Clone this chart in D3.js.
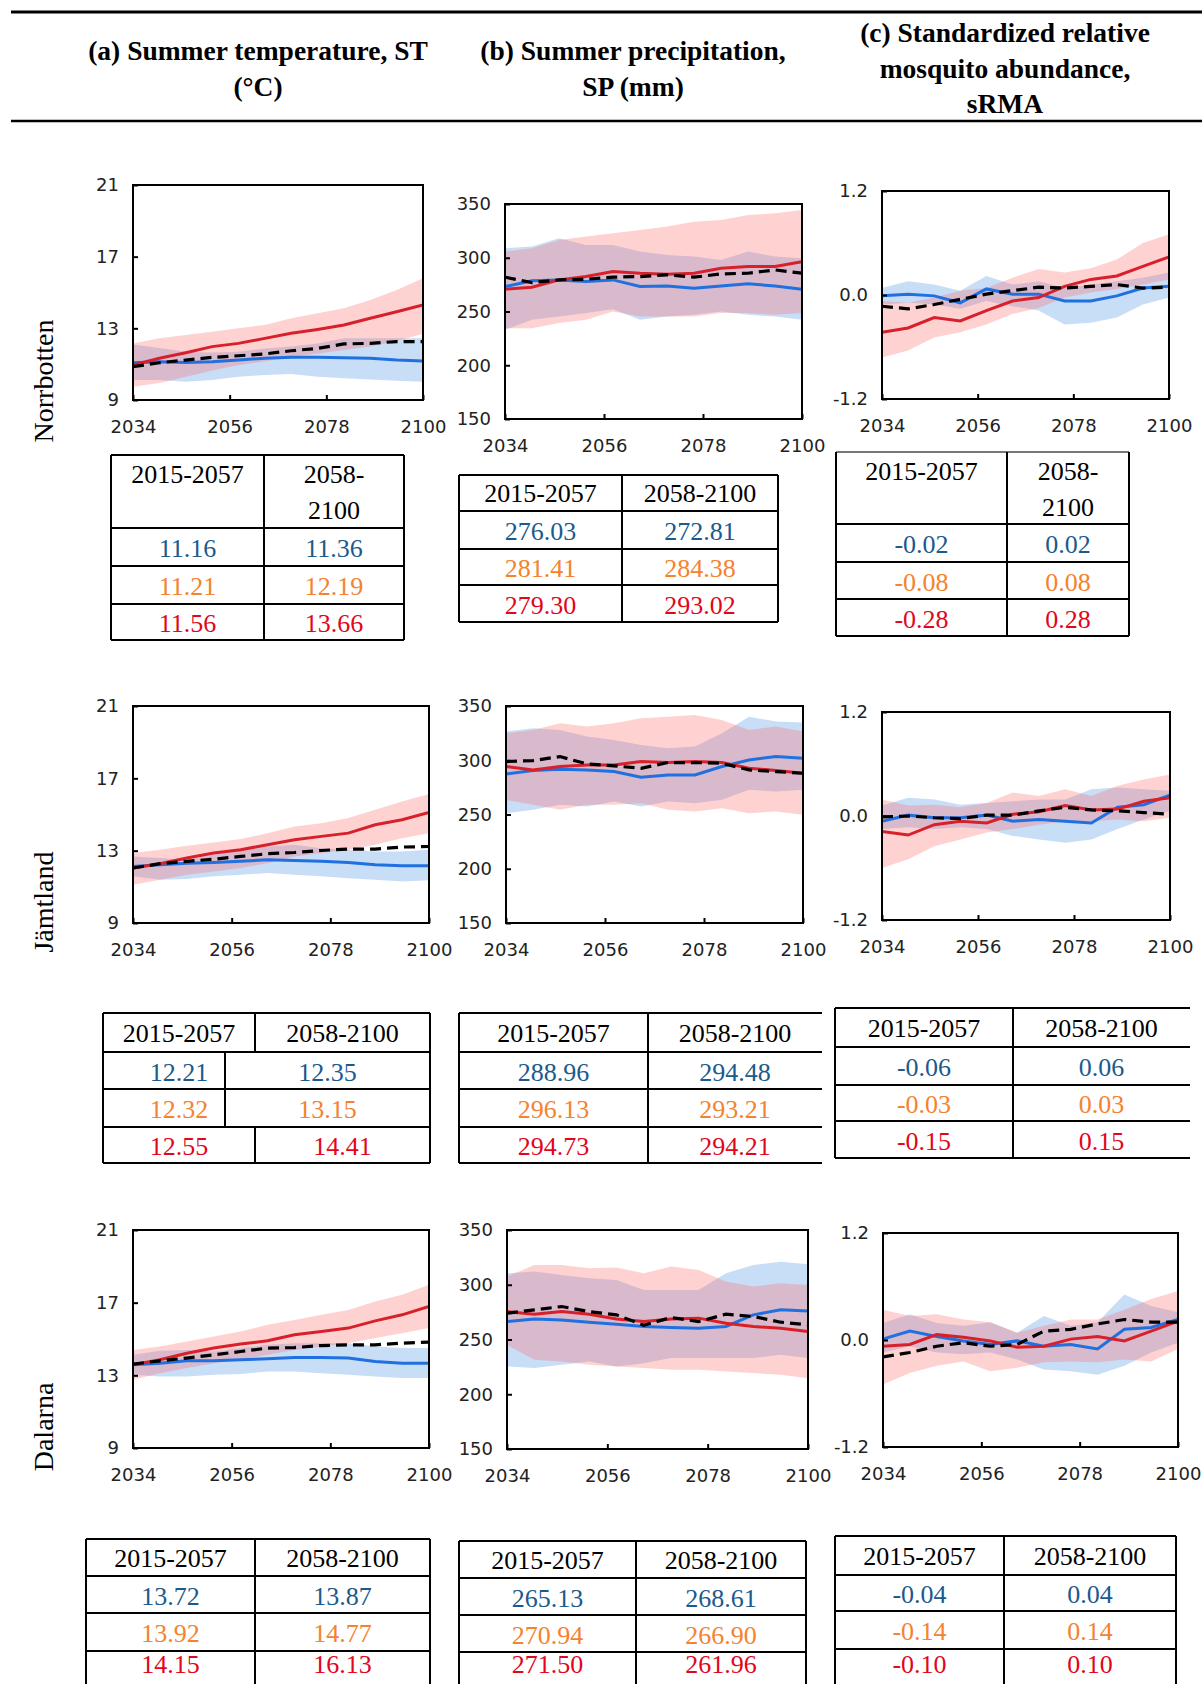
<!DOCTYPE html>
<html>
<head>
<meta charset="utf-8">
<script src="https://cdn.jsdelivr.net/npm/d3@7"></script>
<style>
  body { margin: 0; background: #fff; }
  svg { display: block; }
</style>
</head>
<body>
<svg id="fig" width="1202" height="1684"></svg>
<script>
// ---- data ----
const years = [2034, 2040, 2046, 2052, 2058, 2064, 2070, 2076, 2082, 2088, 2094, 2100];
const xTicks = [2034, 2056, 2078, 2100];
const stTicks = [9, 13, 17, 21];
const spTicks = [150, 200, 250, 300, 350];
const rmaTicks = [-1.2, 0, 1.2];
const regions = ["Norrbotten", "Jämtland", "Dalarna"];
const periods = ["2015-2057", "2058-2100"];

// Norrbotten
const nST_red = [10.95, 11.33, 11.64, 11.98, 12.16, 12.44, 12.72, 12.94, 13.19, 13.56, 13.93, 14.30];
const nST_blue = [11.08, 11.14, 11.10, 11.14, 11.23, 11.33, 11.38, 11.38, 11.36, 11.33, 11.23, 11.18];
const nST_black = [10.86, 11.08, 11.23, 11.38, 11.47, 11.57, 11.75, 11.88, 12.13, 12.16, 12.26, 12.26];
const nST_redHi = [12.16, 12.44, 12.63, 12.81, 13.00, 13.19, 13.56, 13.84, 14.12, 14.58, 15.14, 15.79];
const nST_redLo = [9.74, 9.95, 10.30, 10.65, 10.95, 11.15, 11.42, 11.60, 11.79, 11.98, 12.30, 12.70];
const nST_blueHi = [12.10, 11.90, 11.70, 11.65, 11.70, 11.88, 11.98, 12.16, 12.44, 12.44, 12.44, 12.44];
const nST_blueLo = [10.12, 10.12, 10.02, 10.12, 10.30, 10.40, 10.45, 10.30, 10.21, 10.15, 10.08, 10.02];

const nSP_red = [270.7, 272.6, 279.4, 282.5, 287.2, 285.6, 284.7, 285.6, 290.2, 291.8, 291.8, 296.4];
const nSP_blue = [273.2, 278.5, 279.4, 277.9, 279.4, 273.2, 273.8, 271.7, 273.8, 275.7, 273.8, 270.7];
const nSP_black = [281.9, 276.9, 279.4, 280.0, 281.9, 282.5, 284.1, 281.9, 285.0, 285.6, 288.7, 285.6];
const nSP_redHi = [305.7, 308.8, 316.6, 319.7, 322.8, 325.9, 329.0, 333.6, 335.1, 339.8, 341.3, 344.4];
const nSP_redLo = [234.5, 234.5, 239.2, 242.3, 250.0, 245.4, 245.4, 245.4, 248.5, 248.5, 246.9, 248.5];
const nSP_blueHi = [308.8, 310.4, 318.1, 311.9, 311.9, 305.7, 302.6, 301.1, 298.0, 305.7, 301.1, 299.5];
const nSP_blueLo = [233.0, 242.3, 245.4, 248.5, 252.2, 242.3, 245.4, 246.9, 250.0, 246.9, 245.4, 242.3];

const nRMA_red = [-0.43, -0.38, -0.26, -0.30, -0.18, -0.07, -0.03, 0.10, 0.18, 0.22, 0.33, 0.44];
const nRMA_blue = [-0.01, 0.01, -0.01, -0.09, 0.07, 0.01, 0.01, -0.07, -0.07, -0.01, 0.08, 0.10];
const nRMA_black = [-0.13, -0.16, -0.11, -0.05, 0.01, 0.05, 0.09, 0.08, 0.10, 0.12, 0.08, 0.09];
const nRMA_redHi = [-0.07, -0.09, -0.03, 0.05, 0.08, 0.20, 0.30, 0.26, 0.31, 0.41, 0.60, 0.70];
const nRMA_redLo = [-0.72, -0.64, -0.49, -0.43, -0.34, -0.22, -0.15, -0.03, 0.03, 0.07, 0.12, 0.18];
const nRMA_blueHi = [0.08, 0.16, 0.12, 0.05, 0.22, 0.12, 0.16, 0.08, 0.12, 0.16, 0.20, 0.26];
const nRMA_blueLo = [-0.11, -0.09, -0.11, -0.16, -0.07, -0.13, -0.18, -0.34, -0.32, -0.26, -0.11, -0.03];

// Jämtland
const jST_red = [12.04, 12.28, 12.59, 12.87, 13.05, 13.33, 13.60, 13.79, 13.97, 14.43, 14.71, 15.11];
const jST_blue = [12.13, 12.22, 12.31, 12.35, 12.41, 12.50, 12.46, 12.41, 12.35, 12.22, 12.17, 12.17];
const jST_black = [12.04, 12.28, 12.41, 12.53, 12.68, 12.83, 12.90, 13.01, 13.09, 13.09, 13.20, 13.23];
const jST_redHi = [12.87, 13.05, 13.27, 13.45, 13.64, 13.97, 14.34, 14.52, 14.80, 15.26, 15.72, 16.14];
const jST_redLo = [11.12, 11.39, 11.67, 11.85, 12.04, 12.31, 12.68, 12.87, 13.05, 13.33, 13.69, 13.97];
const jST_blueHi = [12.68, 12.59, 12.50, 12.77, 13.05, 13.23, 13.33, 13.14, 13.05, 12.96, 12.96, 13.05];
const jST_blueLo = [11.58, 11.39, 11.43, 11.58, 11.67, 11.76, 11.67, 11.58, 11.48, 11.39, 11.30, 11.36];

const jSP_red = [294.2, 291.1, 294.2, 295.7, 295.7, 298.8, 297.9, 298.8, 297.9, 292.6, 290.5, 288.0];
const jSP_blue = [287.4, 290.5, 291.7, 291.1, 289.6, 284.4, 286.5, 286.5, 294.2, 300.3, 303.4, 301.8];
const jSP_black = [298.8, 299.7, 303.4, 296.6, 294.8, 292.6, 297.9, 297.9, 297.2, 291.1, 289.6, 288.0];
const jSP_redHi = [324.8, 327.9, 334.0, 331.0, 334.0, 338.7, 340.2, 341.7, 337.1, 327.9, 331.0, 326.4];
const jSP_redLo = [263.5, 258.9, 254.3, 258.9, 258.9, 260.4, 254.3, 252.8, 255.8, 251.2, 252.8, 249.7];
const jSP_blueHi = [326.4, 329.4, 327.9, 321.8, 318.7, 314.1, 311.0, 312.6, 324.8, 340.2, 335.6, 334.7];
const jSP_blueLo = [251.2, 254.3, 258.9, 257.4, 262.0, 257.4, 262.0, 260.4, 263.5, 272.7, 271.2, 272.7];

const jRMA_red = [-0.18, -0.22, -0.10, -0.06, -0.08, 0.02, 0.05, 0.12, 0.07, 0.08, 0.17, 0.21];
const jRMA_blue = [-0.06, 0.01, -0.02, -0.02, 0.01, -0.06, -0.04, -0.06, -0.08, 0.10, 0.13, 0.24];
const jRMA_black = [-0.01, 0.00, -0.02, -0.03, 0.01, 0.01, 0.06, 0.10, 0.07, 0.06, 0.04, 0.02];
const jRMA_redHi = [0.19, 0.12, 0.13, 0.10, 0.15, 0.27, 0.23, 0.31, 0.23, 0.35, 0.42, 0.48];
const jRMA_redLo = [-0.60, -0.50, -0.35, -0.27, -0.19, -0.15, -0.10, -0.06, -0.06, -0.04, -0.06, -0.02];
const jRMA_blueHi = [0.12, 0.21, 0.19, 0.13, 0.15, 0.17, 0.19, 0.19, 0.31, 0.33, 0.31, 0.29];
const jRMA_blueLo = [-0.15, -0.13, -0.15, -0.13, -0.15, -0.23, -0.27, -0.31, -0.27, -0.15, -0.04, 0.06];

// Dalarna
const dST_red = [13.58, 13.86, 14.22, 14.50, 14.72, 14.90, 15.23, 15.41, 15.60, 16.00, 16.33, 16.79];
const dST_blue = [13.58, 13.67, 13.80, 13.80, 13.86, 13.91, 13.98, 13.98, 13.95, 13.76, 13.67, 13.67];
const dST_black = [13.62, 13.80, 13.95, 14.13, 14.31, 14.50, 14.53, 14.64, 14.68, 14.68, 14.77, 14.83];
const dST_redHi = [14.40, 14.59, 14.86, 15.14, 15.41, 15.78, 16.05, 16.33, 16.60, 17.06, 17.43, 17.98];
const dST_redLo = [12.76, 13.12, 13.40, 13.67, 13.86, 14.13, 14.40, 14.59, 14.77, 15.05, 15.32, 15.60];
const dST_blueHi = [14.13, 14.35, 14.40, 14.31, 14.50, 14.68, 14.77, 14.77, 14.77, 14.59, 14.50, 14.50];
const dST_blueLo = [13.03, 12.94, 12.94, 13.03, 13.07, 13.21, 13.21, 13.12, 13.03, 12.94, 12.85, 12.85];

const dSP_red = [275.5, 273.1, 275.5, 273.1, 268.8, 266.4, 268.8, 269.5, 264.9, 261.9, 260.3, 257.3];
const dSP_blue = [266.4, 268.8, 267.9, 265.8, 264.0, 261.9, 260.9, 260.3, 261.9, 272.5, 277.1, 276.1];
const dSP_black = [274.0, 277.1, 280.1, 275.5, 272.5, 263.0, 270.1, 266.4, 273.1, 271.0, 265.8, 263.4];
const dSP_redHi = [307.4, 318.1, 318.1, 315.0, 315.7, 310.5, 316.6, 313.5, 302.9, 298.3, 301.4, 299.8];
const dSP_redLo = [245.1, 231.5, 229.9, 226.9, 225.4, 223.9, 222.3, 222.3, 220.8, 219.3, 217.8, 214.7];
const dSP_blueHi = [310.5, 312.0, 309.0, 305.9, 304.4, 295.3, 295.3, 295.3, 310.5, 318.1, 321.1, 318.7];
const dSP_blueLo = [225.4, 223.9, 226.9, 229.9, 225.4, 228.4, 233.0, 233.0, 233.0, 233.0, 236.0, 233.0];

const dRMA_red = [-0.07, -0.05, 0.06, 0.03, -0.01, -0.08, -0.07, 0.01, 0.04, -0.01, 0.10, 0.21];
const dRMA_blue = [0.01, 0.10, 0.04, -0.01, -0.05, -0.01, -0.07, -0.05, -0.10, 0.12, 0.14, 0.23];
const dRMA_black = [-0.19, -0.14, -0.07, -0.03, -0.07, -0.05, 0.10, 0.12, 0.18, 0.23, 0.20, 0.20];
const dRMA_redHi = [0.34, 0.27, 0.29, 0.23, 0.20, 0.08, 0.16, 0.23, 0.23, 0.34, 0.46, 0.55];
const dRMA_redLo = [-0.50, -0.37, -0.29, -0.24, -0.35, -0.31, -0.25, -0.24, -0.25, -0.22, -0.24, -0.10];
const dRMA_blueHi = [0.19, 0.29, 0.19, 0.16, 0.20, 0.08, 0.27, 0.16, 0.20, 0.51, 0.38, 0.31];
const dRMA_blueLo = [-0.14, -0.07, -0.14, -0.16, -0.14, -0.22, -0.33, -0.35, -0.39, -0.29, -0.14, -0.03];

// period means shown in the tables (rows: blue, orange, red)
const nST_tab = [[11.16, 11.36], [11.21, 12.19], [11.56, 13.66]];
const nSP_tab = [[276.03, 272.81], [281.41, 284.38], [279.30, 293.02]];
const nRMA_tab = [[-0.02, 0.02], [-0.08, 0.08], [-0.28, 0.28]];
const jST_tab = [[12.21, 12.35], [12.32, 13.15], [12.55, 14.41]];
const jSP_tab = [[288.96, 294.48], [296.13, 293.21], [294.73, 294.21]];
const jRMA_tab = [[-0.06, 0.06], [-0.03, 0.03], [-0.15, 0.15]];
const dST_tab = [[13.72, 13.87], [13.92, 14.77], [14.15, 16.13]];
const dSP_tab = [[265.13, 268.61], [270.94, 266.90], [271.50, 261.96]];
const dRMA_tab = [[-0.04, 0.04], [-0.14, 0.14], [-0.10, 0.10]];

// ---- drawing ----
const svg = d3.select("#fig");
const RED = "#d7202a", BLUE = "#2070e0";
const rowColors = ["#1b5a8c", "#f5822e", "#e2061b"];
const serif = "'Liberation Serif', 'Times New Roman', serif";
const sans = "'DejaVu Sans', sans-serif";

// header rules and titles
svg.append("line").attr("x1", 11).attr("x2", 1202).attr("y1", 12).attr("y2", 12)
    .attr("stroke", "#000").attr("stroke-width", 3);
svg.append("line").attr("x1", 11).attr("x2", 1202).attr("y1", 121).attr("y2", 121)
    .attr("stroke", "#000").attr("stroke-width", 2.5);

const titles = [
    { x: 258, lines: ["(a) Summer temperature, ST", "(°C)"], ys: [50, 86] },
    { x: 633, lines: ["(b) Summer precipitation,", "SP (mm)"], ys: [50, 86] },
    { x: 1005, lines: ["(c) Standardized relative", "mosquito abundance,", "sRMA"], ys: [32, 68, 103] }
];
titles.forEach(t => {
    t.lines.forEach((s, i) => {
        svg.append("text").attr("x", t.x).attr("y", t.ys[i]).attr("dy", "0.35em")
            .attr("text-anchor", "middle").attr("font-family", serif)
            .attr("font-weight", "bold").attr("font-size", 27.5).text(s);
    });
});

// row labels
[381, 902, 1427].forEach((cy, i) => {
    svg.append("text").attr("transform", "translate(43," + cy + ") rotate(-90)")
        .attr("dy", "0.35em").attr("text-anchor", "middle")
        .attr("font-family", serif).attr("font-size", 28).text(regions[i]);
});

let clipId = 0;
function drawChart(box, domain, ticks, fmt, s) {
    const x = d3.scaleLinear().domain([2034, 2100]).range([box.l, box.r]);
    const y = d3.scaleLinear().domain(domain).range([box.b, box.t]);
    const g = svg.append("g");
    const id = "clip" + (clipId++);
    g.append("clipPath").attr("id", id).append("rect")
        .attr("x", box.l).attr("y", box.t).attr("width", box.r - box.l).attr("height", box.b - box.t);
    const plot = g.append("g").attr("clip-path", "url(#" + id + ")");

    const band = (lo, hi) => d3.area()
        .x((d, i) => x(years[i])).y0((d, i) => y(lo[i])).y1((d, i) => y(hi[i]))(years);
    const line = v => d3.line().x((d, i) => x(years[i])).y((d, i) => y(v[i]))(years);

    plot.append("path").attr("d", band(s.blueLo, s.blueHi)).attr("fill", "#4a90e2").attr("fill-opacity", 0.3);
    plot.append("path").attr("d", band(s.redLo, s.redHi)).attr("fill", "#ff6b6b").attr("fill-opacity", 0.3);
    plot.append("path").attr("d", line(s.blue)).attr("fill", "none").attr("stroke", BLUE).attr("stroke-width", 3);
    plot.append("path").attr("d", line(s.red)).attr("fill", "none").attr("stroke", RED).attr("stroke-width", 3);
    plot.append("path").attr("d", line(s.black)).attr("fill", "none").attr("stroke", "#000")
        .attr("stroke-width", 3.2).attr("stroke-dasharray", "11,6");

    // axes
    const ax = g.append("g").attr("transform", "translate(0," + box.b + ")")
        .call(d3.axisBottom(x).tickValues(xTicks).tickFormat(d3.format("d"))
            .tickSizeInner(-5).tickSizeOuter(0).tickPadding(20));
    const ay = g.append("g").attr("transform", "translate(" + box.l + ",0)")
        .call(d3.axisLeft(y).tickValues(ticks).tickFormat(fmt)
            .tickSizeInner(-5).tickSizeOuter(0).tickPadding(14));
    [ax, ay].forEach(a => {
        a.select(".domain").remove();
        a.selectAll("line").attr("stroke", "#000").attr("stroke-width", 2);
        a.selectAll("text").attr("font-family", sans).attr("font-size", 18).attr("fill", "#222");
    });
    g.append("rect").attr("x", box.l).attr("y", box.t)
        .attr("width", box.r - box.l).attr("height", box.b - box.t)
        .attr("fill", "none").attr("stroke", "#000").attr("stroke-width", 2);
}

function drawTable(lay, vals, fmt) {
    const g = svg.append("g");
    const [xa, xm, xb] = lay.x;
    const ys = lay.y;
    const sw = 2;
    // divider position per row: header + 3 value rows
    const div = lay.rowDiv || [xm, xm, xm, xm];
    ys.forEach((yy, i) => {
        g.append("line").attr("x1", xa).attr("x2", xb).attr("y1", yy).attr("y2", yy)
            .attr("stroke", i === 0 && lay.thinTop ? "#777" : "#000").attr("stroke-width", sw);
    });
    const outer = lay.right === false ? [xa] : [xa, xb];
    outer.forEach(xx => {
        g.append("line").attr("x1", xx).attr("x2", xx).attr("y1", ys[0]).attr("y2", ys[ys.length - 1])
            .attr("stroke", "#000").attr("stroke-width", sw);
    });
    div.forEach((xx, i) => {
        g.append("line").attr("x1", xx).attr("x2", xx).attr("y1", ys[i]).attr("y2", ys[i + 1])
            .attr("stroke", "#000").attr("stroke-width", sw);
    });
    const cx0 = (xa + xm) / 2;
    const txt = (xx, yy, s, c) => g.append("text").attr("x", xx).attr("y", Math.min(yy, 1664)).attr("dy", "0.35em")
        .attr("text-anchor", "middle").attr("font-family", serif).attr("font-size", 26)
        .attr("fill", c).text(s);
    if (lay.wrap) {
        txt(cx0, ys[0] + 19, periods[0], "#000");
        txt((div[0] + xb) / 2, ys[0] + 19, periods[1].slice(0, 5), "#000");
        txt((div[0] + xb) / 2, ys[0] + 55, periods[1].slice(5), "#000");
    } else {
        txt(cx0, (ys[0] + ys[1]) / 2, periods[0], "#000");
        txt((div[0] + xb) / 2, (ys[0] + ys[1]) / 2, periods[1], "#000");
    }
    vals.forEach((row, i) => {
        txt(cx0, (ys[i + 1] + ys[i + 2]) / 2 + 1, fmt(row[0]), rowColors[i]);
        txt((div[i + 1] + xb) / 2, (ys[i + 1] + ys[i + 2]) / 2 + 1, fmt(row[1]), rowColors[i]);
    });
}

// plain hyphen for negative numbers, as in the figure
const f2 = v => v.toFixed(2);
const fr = v => v.toFixed(1);
const fd = v => String(v);

const pack = (red, blue, black, redHi, redLo, blueHi, blueLo) => ({ red, blue, black, redHi, redLo, blueHi, blueLo });

const charts = [
    [{ l: 133, r: 423, t: 185, b: 400 }, [9, 21], stTicks, fd,
        pack(nST_red, nST_blue, nST_black, nST_redHi, nST_redLo, nST_blueHi, nST_blueLo)],
    [{ l: 505, r: 802, t: 204, b: 419 }, [150, 350], spTicks, fd,
        pack(nSP_red, nSP_blue, nSP_black, nSP_redHi, nSP_redLo, nSP_blueHi, nSP_blueLo)],
    [{ l: 882, r: 1169, t: 191, b: 399 }, [-1.2, 1.2], rmaTicks, fr,
        pack(nRMA_red, nRMA_blue, nRMA_black, nRMA_redHi, nRMA_redLo, nRMA_blueHi, nRMA_blueLo)],
    [{ l: 133, r: 429, t: 706, b: 923 }, [9, 21], stTicks, fd,
        pack(jST_red, jST_blue, jST_black, jST_redHi, jST_redLo, jST_blueHi, jST_blueLo)],
    [{ l: 506, r: 803, t: 706, b: 923 }, [150, 350], spTicks, fd,
        pack(jSP_red, jSP_blue, jSP_black, jSP_redHi, jSP_redLo, jSP_blueHi, jSP_blueLo)],
    [{ l: 882, r: 1170, t: 712, b: 920 }, [-1.2, 1.2], rmaTicks, fr,
        pack(jRMA_red, jRMA_blue, jRMA_black, jRMA_redHi, jRMA_redLo, jRMA_blueHi, jRMA_blueLo)],
    [{ l: 133, r: 429, t: 1230, b: 1448 }, [9, 21], stTicks, fd,
        pack(dST_red, dST_blue, dST_black, dST_redHi, dST_redLo, dST_blueHi, dST_blueLo)],
    [{ l: 507, r: 808, t: 1230, b: 1449 }, [150, 350], spTicks, fd,
        pack(dSP_red, dSP_blue, dSP_black, dSP_redHi, dSP_redLo, dSP_blueHi, dSP_blueLo)],
    [{ l: 883, r: 1178, t: 1233, b: 1447 }, [-1.2, 1.2], rmaTicks, fr,
        pack(dRMA_red, dRMA_blue, dRMA_black, dRMA_redHi, dRMA_redLo, dRMA_blueHi, dRMA_blueLo)]
];
charts.forEach(c => drawChart(...c));

// tables
drawTable({ x: [111, 264, 404], y: [455, 528, 566, 604, 640], wrap: true }, nST_tab, f2);
drawTable({ x: [459, 622, 778], y: [475, 511, 549, 585, 622] }, nSP_tab, f2);
drawTable({ x: [836, 1007, 1129], y: [452, 524, 562, 599, 636], wrap: true, thinTop: true }, nRMA_tab, f2);
drawTable({ x: [103, 255, 430], y: [1013, 1052, 1089, 1127, 1163], rowDiv: [255, 225, 225, 255] }, jST_tab, f2);
drawTable({ x: [459, 648, 822], y: [1013, 1052, 1089, 1127, 1163], right: false }, jSP_tab, f2);
drawTable({ x: [835, 1013, 1190], y: [1008, 1047, 1085, 1121, 1158], right: false }, jRMA_tab, f2);
drawTable({ x: [86, 255, 430], y: [1539, 1576, 1613, 1651, 1690] }, dST_tab, f2);
drawTable({ x: [459, 636, 806], y: [1541, 1578, 1615, 1652, 1690] }, dSP_tab, f2);
drawTable({ x: [835, 1004, 1176], y: [1536, 1575, 1611, 1649, 1690] }, dRMA_tab, f2);
</script>
</body>
</html>
